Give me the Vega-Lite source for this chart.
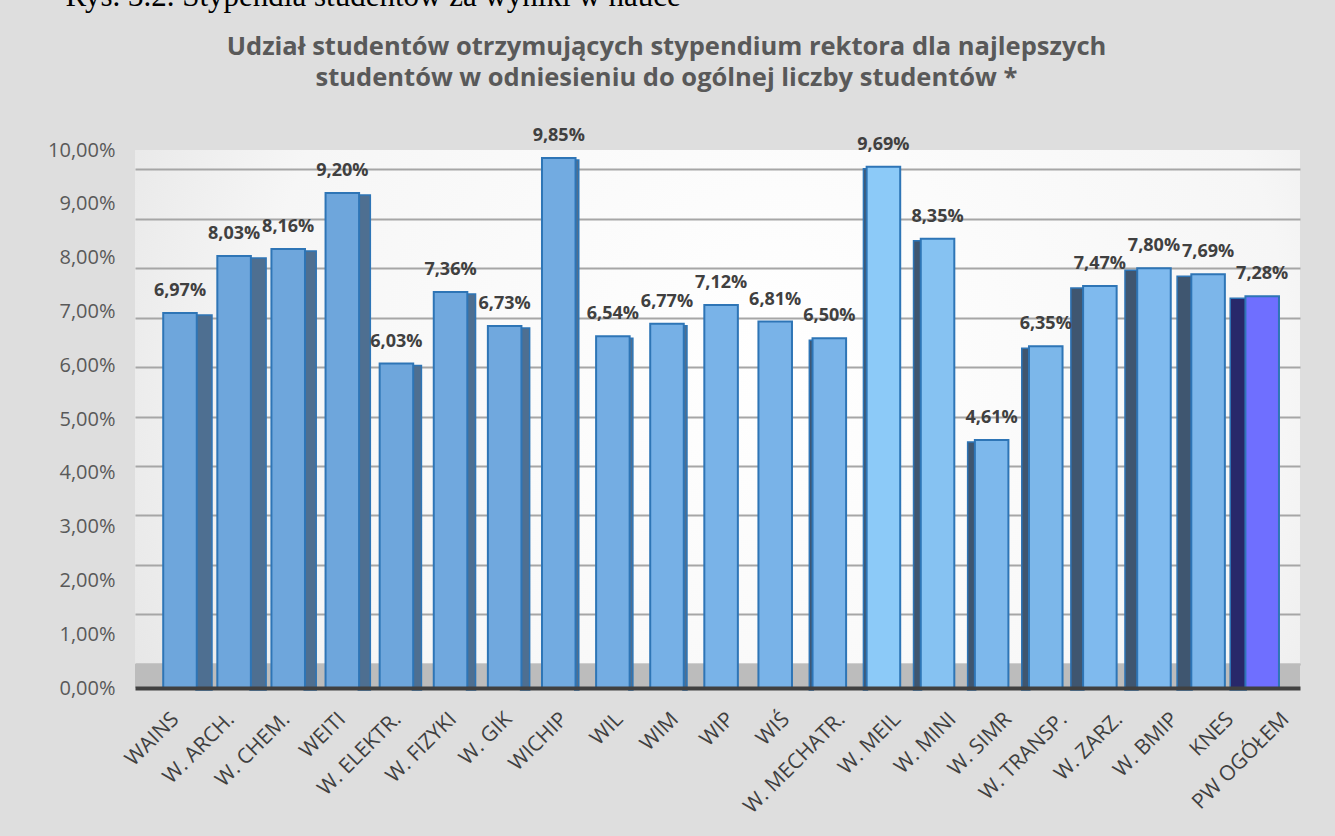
{
  "$schema": "https://vega.github.io/schema/vega-lite/v6.json",
  "width": 1165,
  "height": 538,
  "autosize": {"type": "none"},
  "padding": {"left": 135, "top": 150, "right": 35, "bottom": 148},
  "background": "#dedede",
  "title": {
    "text": ["Udział studentów otrzymujących stypendium rektora dla najlepszych", "studentów w odniesieniu do ogólnej liczby studentów *"],
    "font": "Open Sans",
    "fontSize": 25.5,
    "fontWeight": "bold",
    "color": "#595959",
    "lineHeight": 31,
    "anchor": "middle",
    "dx": -51,
    "offset": -111
  },
  "data": {
    "values": [
      {"cat": "WAINS", "v": 0.0697},
      {"cat": "W. ARCH.", "v": 0.0803},
      {"cat": "W. CHEM.", "v": 0.0816},
      {"cat": "WEITI", "v": 0.0920},
      {"cat": "W. ELEKTR.", "v": 0.0603},
      {"cat": "W. FIZYKI", "v": 0.0736},
      {"cat": "W. GIK", "v": 0.0673},
      {"cat": "WICHIP", "v": 0.0985},
      {"cat": "WIL", "v": 0.0654},
      {"cat": "WIM", "v": 0.0677},
      {"cat": "WIP", "v": 0.0712},
      {"cat": "WIŚ", "v": 0.0681},
      {"cat": "W. MECHATR.", "v": 0.0650},
      {"cat": "W. MEIL", "v": 0.0969},
      {"cat": "W. MINI", "v": 0.0835},
      {"cat": "W. SIMR", "v": 0.0461},
      {"cat": "W. TRANSP.", "v": 0.0635},
      {"cat": "W. ZARZ.", "v": 0.0747},
      {"cat": "W. BMIP", "v": 0.0780},
      {"cat": "KNES", "v": 0.0769},
      {"cat": "PW OGÓŁEM", "v": 0.0728}
    ]
  },
  "encoding": {
    "x": {
      "field": "cat",
      "type": "nominal",
      "sort": null,
      "scale": {
        "type": "band",
        "domain": ["WAINS", "W. ARCH.", "W. CHEM.", "WEITI", "W. ELEKTR.", "W. FIZYKI", "W. GIK", "WICHIP", "WIL", "WIM", "WIP", "WIŚ", "W. MECHATR.", "W. MEIL", "W. MINI", "W. SIMR", "W. TRANSP.", "W. ZARZ.", "W. BMIP", "KNES", "PW OGÓŁEM"],
        "paddingInner": 0.38, "paddingOuter": 0.455, "align": 0.573, "round": false
      },
      "axis": {
        "title": null,
        "labelAngle": -45,
        "labelFont": "Open Sans",
        "labelFontSize": 21,
        "labelColor": "#404040",
        "labelPadding": 20,
        "labelOffset": {"expr": "-12 + 28*datum.index"},
        "ticks": false,
        "domain": true,
        "domainColor": "#404040",
        "domainWidth": 4,
        "zindex": 1
      }
    }
  },
  "layer": [
    {
      "data": {"values": [{"element": "podłoga"}]},
      "layer": [
        {
          "mark": {"type": "rect", "fill": "#bcbcbc"},
          "encoding": {
            "x": {"value": 0},
            "x2": {"value": "width"},
            "y": {
              "datum": 0,
              "type": "quantitative",
              "scale": {"domain": [-0.00485, 0.10384], "nice": false, "zero": false},
              "axis": {
                "orient": "right",
                "values": [0, 0.01, 0.02, 0.03, 0.04, 0.05, 0.06, 0.07, 0.08, 0.09, 0.1],
                "grid": true,
                "gridColor": "#a6a6a6",
                "gridWidth": 2,
                "labels": false,
                "ticks": false,
                "domain": false,
                "title": null
              }
            },
            "y2": {"value": "height"}
          }
        }
      ]
    },
    {
      "encoding": {
        "y": {
          "field": "v",
          "type": "quantitative",
          "scale": {"domain": [0, 0.1], "nice": false},
          "axis": {
            "orient": "left",
            "values": [0, 0.01, 0.02, 0.03, 0.04, 0.05, 0.06, 0.07, 0.08, 0.09, 0.1],
            "format": ".2%",
            "grid": false,
            "ticks": false,
            "domain": false,
            "labelFont": "Open Sans",
            "labelFontSize": 20,
            "labelColor": "#595959",
            "labelPadding": 20,
            "title": "Rys. 3.2. Stypendia studentów za wyniki w nauce",
            "titleAngle": 0,
            "titleX": -70,
            "titleY": -145,
            "titleAlign": "left",
            "titleBaseline": "alphabetic",
            "titleFont": "Liberation Serif",
            "titleFontSize": 31,
            "titleFontWeight": "normal",
            "titleColor": "#000000"
          }
        }
      },
      "layer": [
        {
          "transform": [{"filter": {"field": "cat", "oneOf": ["WAINS", "W. ARCH."]}}],
          "mark": {"type": "bar", "width": 16, "xOffset": 24, "yOffset": 2, "y2Offset": -9, "fill": "#4e6f91", "stroke": "#2e75b6", "strokeWidth": 1.5}
        },
        {
          "transform": [{"filter": {"field": "cat", "oneOf": ["W. CHEM.", "WEITI"]}}],
          "mark": {"type": "bar", "width": 12, "xOffset": 22, "yOffset": 2, "y2Offset": -9, "fill": "#4e6f91", "stroke": "#2e75b6", "strokeWidth": 1.5}
        },
        {
          "transform": [{"filter": {"field": "cat", "oneOf": ["W. ELEKTR.", "W. FIZYKI", "W. GIK"]}}],
          "mark": {"type": "bar", "width": 9, "xOffset": 20.5, "yOffset": 2, "y2Offset": -9, "fill": "#4e6f91", "stroke": "#2e75b6", "strokeWidth": 1.5}
        },
        {
          "transform": [{"filter": {"field": "cat", "oneOf": ["WICHIP", "WIL", "WIM"]}}],
          "mark": {"type": "bar", "width": 4, "xOffset": 18, "yOffset": 2, "y2Offset": -9, "fill": "#4e6f91", "stroke": "#2e75b6", "strokeWidth": 1.5}
        },
        {
          "transform": [{"filter": {"field": "cat", "oneOf": ["W. MECHATR.", "W. MEIL"]}}],
          "mark": {"type": "bar", "width": 4, "xOffset": -18, "yOffset": 2, "y2Offset": -9, "fill": "#3f5670", "stroke": "#2e75b6", "strokeWidth": 1.5}
        },
        {
          "transform": [{"filter": {"field": "cat", "oneOf": ["W. MINI", "W. SIMR", "W. TRANSP."]}}],
          "mark": {"type": "bar", "width": 8, "xOffset": -20, "yOffset": 2, "y2Offset": -9, "fill": "#3f5670", "stroke": "#2e75b6", "strokeWidth": 1.5}
        },
        {
          "transform": [{"filter": {"field": "cat", "oneOf": ["W. ZARZ.", "W. BMIP"]}}],
          "mark": {"type": "bar", "width": 13, "xOffset": -22.5, "yOffset": 2, "y2Offset": -9, "fill": "#3f5670", "stroke": "#2e75b6", "strokeWidth": 1.5}
        },
        {
          "transform": [{"filter": {"field": "cat", "oneOf": ["KNES"]}}],
          "mark": {"type": "bar", "width": 15, "xOffset": -23.5, "yOffset": 2, "y2Offset": -9, "fill": "#3f5670", "stroke": "#2e75b6", "strokeWidth": 1.5}
        },
        {
          "transform": [{"filter": {"field": "cat", "oneOf": ["PW OGÓŁEM"]}}],
          "mark": {"type": "bar", "width": 16, "xOffset": -24, "yOffset": 2, "y2Offset": -9, "fill": "#28286a", "stroke": "#2e75b6", "strokeWidth": 1.5}
        },
        {
          "mark": {"type": "bar", "y2Offset": -9, "stroke": "#2e75b6", "strokeWidth": 2},
          "encoding": {
            "fill": {
              "field": "cat",
              "type": "nominal",
              "legend": null,
              "scale": {
                "domain": ["WAINS", "W. ARCH.", "W. CHEM.", "WEITI", "W. ELEKTR.", "W. FIZYKI", "W. GIK", "WICHIP", "WIL", "WIM", "WIP", "WIŚ", "W. MECHATR.", "W. MEIL", "W. MINI", "W. SIMR", "W. TRANSP.", "W. ZARZ.", "W. BMIP", "KNES", "PW OGÓŁEM"],
                "range": ["#6ea6dc", "#6ea6dc", "#6ea6dc", "#6ea6dc", "#6ea6dc", "#70a8de", "#70a8de", "#72abe1", "#74ade3", "#76b0e6", "#79b3e8", "#79b3e8", "#7ab4e9", "#8ccaf8", "#86c2f2", "#7db8ec", "#7cb7ea", "#7fbaee", "#7fbaee", "#7cb6ea", "#6f6fff"]
              }
            }
          }
        },
        {
          "mark": {"type": "text", "font": "Open Sans", "fontSize": 18, "fontWeight": "bold", "color": "#404040", "baseline": "alphabetic", "dy": -17},
          "encoding": {
            "text": {"field": "v", "type": "quantitative", "format": ".2%"}
          }
        }
      ]
    }
  ],
  "resolve": {"scale": {"y": "independent"}},
  "config": {
    "locale": {"number": {"decimal": ",", "thousands": " ", "grouping": [3], "currency": ["", " zł"]}},
    "view": {
      "stroke": null,
      "fill": {
        "gradient": "radial",
        "x1": 0.55, "y1": 0.45, "r1": 0,
        "x2": 0.55, "y2": 0.45, "r2": 0.8,
        "stops": [
          {"offset": 0, "color": "#ffffff"},
          {"offset": 0.55, "color": "#f6f6f6"},
          {"offset": 1, "color": "#d6d6d6"}
        ]
      }
    }
  }
}
